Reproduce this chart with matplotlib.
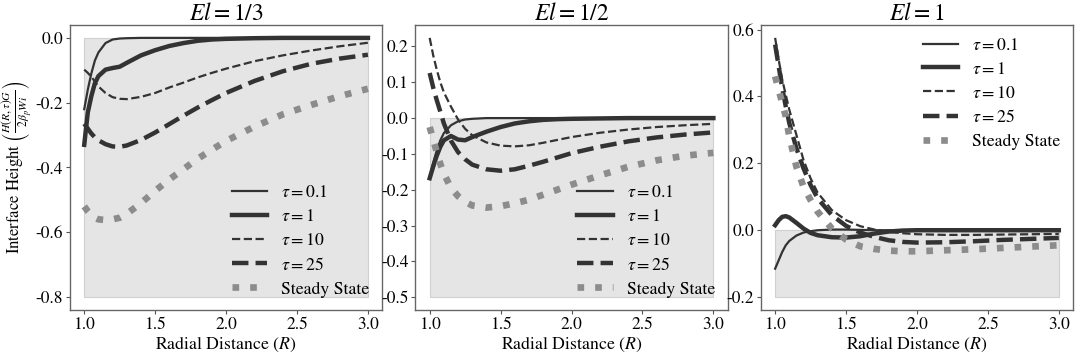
import numpy as np
import matplotlib
matplotlib.use("Agg")
import matplotlib.pyplot as plt

plt.rcParams['font.family'] = ['STIXGeneral', 'DejaVu Serif']
plt.rcParams['mathtext.fontset'] = 'stix'
plt.rcParams['axes.unicode_minus'] = False

# radial grid shared by all curves
R = [1.0, 1.025, 1.05, 1.075, 1.1, 1.15, 1.2, 1.25, 1.3, 1.4, 1.5,
     1.6, 1.7, 1.8, 1.9, 2.0, 2.2, 2.4, 2.6, 2.8, 3.0]

# El = 1/3
el3_t01 = [-0.22, -0.16, -0.11, -0.07, -0.045, -0.016, -0.005, -0.002, -0.001, 0, 0,
           0, 0, 0, 0, 0, 0, 0, 0, 0, 0]
el3_t1 = [-0.33, -0.23, -0.18, -0.14, -0.118, -0.098, -0.093, -0.089, -0.077, -0.054, -0.038,
          -0.025, -0.016, -0.009, -0.005, -0.003, -0.001, 0, 0, 0, 0]
el3_t10 = [-0.098, -0.108, -0.12, -0.135, -0.15, -0.17, -0.183, -0.188, -0.189, -0.182, -0.17,
           -0.153, -0.138, -0.122, -0.108, -0.095, -0.072, -0.054, -0.039, -0.026, -0.015]
el3_t25 = [-0.265, -0.28, -0.295, -0.307, -0.316, -0.328, -0.335, -0.336, -0.332, -0.315, -0.292,
           -0.266, -0.24, -0.215, -0.192, -0.17, -0.133, -0.103, -0.08, -0.064, -0.052]
el3_ss = [-0.52, -0.535, -0.547, -0.555, -0.56, -0.562, -0.56, -0.555, -0.543, -0.51, -0.472,
          -0.437, -0.405, -0.373, -0.345, -0.318, -0.274, -0.236, -0.207, -0.18, -0.157]

# El = 1/2
el2_t01 = [-0.165, -0.125, -0.09, -0.062, -0.042, -0.02, -0.009, -0.004, -0.002, 0, 0,
           0, 0, 0, 0, 0, 0, 0, 0, 0, 0]
el2_t1 = [-0.168, -0.135, -0.105, -0.08, -0.062, -0.05, -0.06, -0.062, -0.053, -0.038, -0.025,
          -0.015, -0.009, -0.005, -0.003, -0.002, -0.001, 0, 0, 0, 0]
el2_t10 = [0.224, 0.175, 0.135, 0.1, 0.072, 0.032, -0.004, -0.03, -0.048, -0.068, -0.077,
           -0.079, -0.076, -0.069, -0.061, -0.053, -0.041, -0.032, -0.025, -0.02, -0.016]
el2_t25 = [0.126, 0.085, 0.05, 0.018, -0.015, -0.063, -0.095, -0.115, -0.13, -0.143, -0.147,
           -0.143, -0.133, -0.122, -0.11, -0.098, -0.08, -0.065, -0.054, -0.046, -0.04]
el2_ss = [-0.025, -0.06, -0.095, -0.128, -0.155, -0.195, -0.218, -0.234, -0.244, -0.25, -0.246,
          -0.238, -0.228, -0.214, -0.2, -0.186, -0.16, -0.136, -0.118, -0.105, -0.097]

# El = 1
el1_t01 = [-0.115, -0.09, -0.065, -0.045, -0.032, -0.016, -0.007, -0.003, 0.0, 0.002, 0.002,
           0.001, 0, 0, 0, 0, 0, 0, 0, 0, 0]
el1_t1 = [0.015, 0.03, 0.04, 0.042, 0.038, 0.022, 0.005, -0.008, -0.015, -0.021, -0.022,
          -0.018, -0.01, -0.004, -0.001, 0, 0, 0, 0, 0, 0]
el1_t10 = [0.575, 0.51, 0.45, 0.405, 0.36, 0.285, 0.21, 0.155, 0.112, 0.06, 0.03,
           0.012, 0.002, -0.005, -0.009, -0.012, -0.014, -0.014, -0.013, -0.012, -0.011]
el1_t25 = [0.555, 0.49, 0.425, 0.37, 0.32, 0.245, 0.185, 0.135, 0.095, 0.045, 0.013,
           -0.007, -0.02, -0.03, -0.035, -0.037, -0.036, -0.033, -0.029, -0.026, -0.023]
el1_ss = [0.46, 0.42, 0.38, 0.34, 0.28, 0.19, 0.13, 0.09, 0.055, 0.005, -0.028,
          -0.048, -0.056, -0.061, -0.063, -0.063, -0.06, -0.057, -0.053, -0.049, -0.045]

titles = ['$El = 1/3$', '$El = 1/2$', '$El = 1$']
shade_bottom = [-0.8, -0.5, -0.2]
labels = [r'$\tau = 0.1$', r'$\tau = 1$', r'$\tau = 10$', r'$\tau = 25$', 'Steady State']
panels = [
    [el3_t01, el3_t1, el3_t10, el3_t25, el3_ss],
    [el2_t01, el2_t1, el2_t10, el2_t25, el2_ss],
    [el1_t01, el1_t1, el1_t10, el1_t25, el1_ss],
]
legend_loc = ['lower right', 'lower right', 'upper right']

styles = [
    dict(color='#333333', lw=1.6, ls='-'),
    dict(color='#333333', lw=3.2, ls='-'),
    dict(color='#333333', lw=1.6, ls='--'),
    dict(color='#333333', lw=3.2, ls='--'),
    dict(color='#8c8c8c', lw=4.8, ls=':'),
]

fig, axes = plt.subplots(1, 3, figsize=(10.81, 3.56), dpi=100)
fig.subplots_adjust(left=0.0648, right=0.9926, bottom=0.129, top=0.930, wspace=0.107)

for i, ax in enumerate(axes):
    ax.fill_between([R[0], R[-1]], shade_bottom[i], 0, facecolor='#e5e5e5',
                    edgecolor='#d0d0d0', lw=0.8)
    for data, st, lab in zip(panels[i], styles, labels):
        ax.plot(R, data, label=lab, **st)
    ax.set_title(titles[i], fontsize=17, pad=3)
    ax.set_xlabel('Radial Distance ($R$)', fontsize=12.8, labelpad=1)
    ax.set_xticks([1.0, 1.5, 2.0, 2.5, 3.0])
    ax.tick_params(labelsize=12.5, length=3, width=0.8, color='#555555', pad=2)
    for sp in ax.spines.values():
        sp.set_color('#666666')
        sp.set_linewidth(1.0)
    ax.legend(loc=legend_loc[i], frameon=False, fontsize=12.8, handlelength=2.0,
              labelspacing=0.42, handletextpad=0.8, borderaxespad=0.3)

axes[0].set_ylabel(r'Interface Height $\left(\frac{H(R,\tau)G}{2\beta_p Wi}\right)$',
                   fontsize=12, labelpad=1)

fig.savefig('out.png', dpi=100)
